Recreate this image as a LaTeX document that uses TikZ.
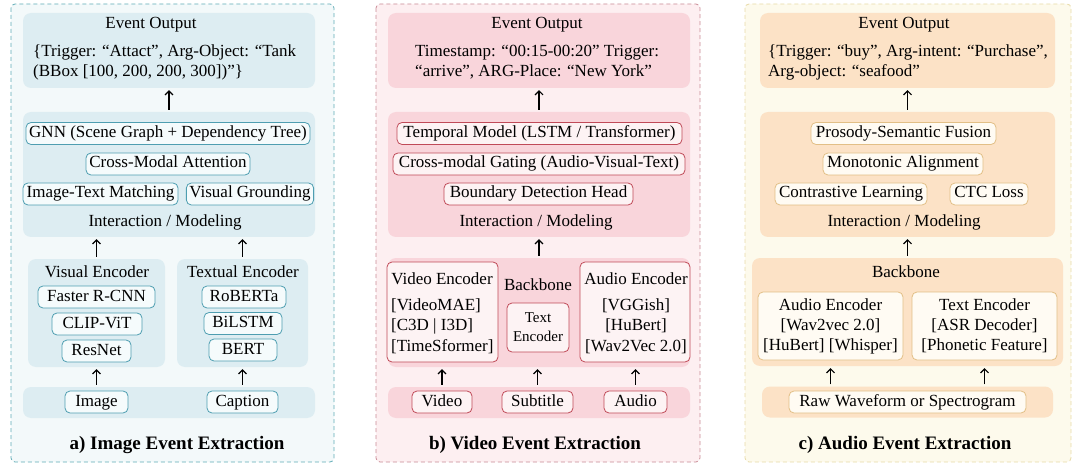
\documentclass[tikz,border=0pt]{standalone}
\usepackage{fontspec}
\setmainfont{Liberation Serif}
\usepackage{tikz}
\usetikzlibrary{arrows.meta}

\definecolor{abg}{HTML}{F3F9FA}
\definecolor{aframe}{HTML}{5EABB6}
\definecolor{abox}{HTML}{DDEDF2}
\definecolor{aedge}{HTML}{4E9EB1}
\definecolor{afill}{HTML}{F5FBFC}
\definecolor{bbg}{HTML}{FDEFF1}
\definecolor{bframe}{HTML}{C98A95}
\definecolor{bbox}{HTML}{F9D5DB}
\definecolor{bedge}{HTML}{C04A58}
\definecolor{bfill}{HTML}{FDF3F4}
\definecolor{cbg}{HTML}{FDFAEC}
\definecolor{cframe}{HTML}{E7DAA6}
\definecolor{cbox}{HTML}{FCE2C6}
\definecolor{cedge}{HTML}{E2BF86}
\definecolor{cfill}{HTML}{FFFBF3}

\tikzset{
    frame/.style={draw=#1, line width=0.8pt, dash pattern=on 4pt off 3pt, rounded corners=4pt},
    area/.style={fill=#1, rounded corners=8pt, inner sep=0pt},
    lbl/.style={inner sep=0pt, text height=12pt, text depth=4pt},
    tag/.style={draw=#1, rounded corners=5pt, line width=0.8pt, inner xsep=3pt, inner ysep=3pt, text height=12pt, text depth=4pt},
    atag/.style={tag=aedge, fill=afill},
    btag/.style={tag=bedge, fill=bfill},
    ctag/.style={tag=cedge, fill=cfill},
    encbox/.style={draw=#1, rounded corners=5pt, line width=0.8pt, inner sep=0pt},
    arr/.style={-{Straight Barb[length=4pt,width=8pt]}, line width=1.1pt, shorten <=2pt, shorten >=2pt},
    heading/.style={font=\fontsize{19}{22}\selectfont\bfseries, inner sep=0pt}
}

\begin{document}
\begin{tikzpicture}[x=1pt, y=-1pt, font=\fontsize{17}{20}\selectfont]
    \useasboundingbox (0,0) rectangle (1080,468);

    \coordinate (A1) at (11,4);
    \coordinate (A2) at (334,462);
    \coordinate (B1) at (376,4);
    \coordinate (B2) at (700,462);
    \coordinate (C1) at (745,4);
    \coordinate (C2) at (1071,462);

    \draw[frame=aframe, fill=abg] (A1) rectangle (A2);
    \draw[frame=bframe, fill=bbg] (B1) rectangle (B2);
    \draw[frame=cframe, fill=cbg] (C1) rectangle (C2);

    % a) image
    \node[area=abox, minimum width=292pt, minimum height=75pt] (aout) at (169,50.5) {};
    \node[area=abox, minimum width=292pt, minimum height=125pt] (amod) at (169,174.5) {};
    \node[area=abox, minimum width=137pt, minimum height=108pt] (avis) at (96.5,313) {};
    \node[area=abox, minimum width=131pt, minimum height=108pt] (atxt) at (242.5,313) {};
    \node[area=abox, minimum width=292pt, minimum height=31pt] (ain) at (169,402.5) {};

    \node[lbl] (aouttitle) at (151,25) {Event Output};
    \node[anchor=west, align=left, inner sep=0pt] (aevent) at (33,62) {\{Trigger: “Attact”, Arg-Object: “Tank\\(BBox [100, 200, 200, 300])”\}};

    \node[atag, minimum width=284pt] (agnn) at (168,133.5) {GNN (Scene Graph + Dependency Tree)};
    \node[atag, minimum width=164pt] (acma) at (168,164) {Cross-Modal Attention};
    \node[atag, minimum width=155pt] (aitm) at (100.5,194) {Image-Text Matching};
    \node[atag, minimum width=126pt] (avg) at (250,194) {Visual Grounding};
    \node[lbl] (amodlbl) at (165,222) {Interaction / Modeling};

    \node[lbl] (avislbl) at (97,273) {Visual Encoder};
    \node[atag, minimum width=117pt] (afrcnn) at (96.5,297) {Faster R-CNN};
    \node[atag, minimum width=90pt] (aclip) at (97,324) {CLIP-ViT};
    \node[atag, minimum width=69pt] (aresnet) at (96.5,351) {ResNet};

    \node[lbl] (atxtlbl) at (243,273) {Textual Encoder};
    \node[atag, minimum width=84pt] (aroberta) at (244,297) {RoBERTa};
    \node[atag, minimum width=78pt] (abilstm) at (243,323.5) {BiLSTM};
    \node[atag, minimum width=68pt] (abert) at (243,350) {BERT};

    \node[atag, minimum width=63pt] (aimage) at (96.5,402) {Image};
    \node[atag, minimum width=71pt] (acaption) at (242.5,402) {Caption};

    \draw[arr] (amod.north) -- (aout.south);
    \draw[arr] (avis.north) -- (avis.north |- amod.south);
    \draw[arr] (atxt.north) -- (atxt.north |- amod.south);
    \draw[arr] (ain.north -| aimage) -- (avis.south);
    \draw[arr] (ain.north -| acaption) -- (atxt.south);

    \node[heading] (atitle) at (177,445) {a) Image Event Extraction};

    % b) video
    \node[area=bbox, minimum width=302pt, minimum height=75pt] (bout) at (539,50.5) {};
    \node[area=bbox, minimum width=302pt, minimum height=125pt] (bmod) at (539,174.5) {};
    \node[area=bbox, minimum width=302pt, minimum height=109pt] (bback) at (539,312.5) {};
    \node[area=bbox, minimum width=302pt, minimum height=31pt] (bin) at (539,402.5) {};

    \node[lbl] (bouttitle) at (537,25) {Event Output};
    \node[anchor=west, align=left, inner sep=0pt] (bevent) at (415,62) {Timestamp: “00:15-00:20” Trigger:\\“arrive”, ARG-Place: “New York”};

    \node[btag, minimum width=285pt] (btemp) at (539.5,133.5) {Temporal Model (LSTM / Transformer)};
    \node[btag, minimum width=292pt] (bgate) at (539,164) {Cross-modal Gating (Audio-Visual-Text)};
    \node[btag, minimum width=189pt] (bbound) at (538.5,194) {Boundary Detection Head};
    \node[lbl] (bmodlbl) at (536,222) {Interaction / Modeling};

    \node[encbox=bedge, fill=bfill, minimum width=111pt, minimum height=100pt] (bvid) at (442.5,312) {};
    \node[lbl] (bvidlbl) at (442,280) {Video Encoder};
    \node[anchor=west, align=left, inner sep=0pt, font=\fontsize{17}{20.5}\selectfont] (bvidlist) at (391,326) {[VideoMAE]\\{}[C3D | I3D]\\{}[TimeSformer]};

    \node[lbl] (bbacklbl) at (538,286) {Backbone};
    \node[encbox=bedge, fill=bfill, minimum width=62pt, minimum height=49pt, align=center, font=\fontsize{15}{19}\selectfont] (btxt) at (538,327.5) {Text\\Encoder};

    \node[encbox=bedge, fill=bfill, minimum width=110pt, minimum height=100pt] (baud) at (635,312) {};
    \node[lbl] (baudlbl) at (636,280) {Audio Encoder};
    \node[align=center, inner sep=0pt, font=\fontsize{17}{20.5}\selectfont] (baudlist) at (636,326) {[VGGish]\\{}[HuBert]\\{}[Wav2Vec 2.0]};

    \node[btag, minimum width=60pt] (bvideo) at (442,402) {Video};
    \node[btag, minimum width=71pt] (bsub) at (537.5,402) {Subtitle};
    \node[btag, minimum width=63pt] (baudio) at (635.5,402) {Audio};

    \draw[arr] (bmod.north) -- (bout.south);
    \draw[arr] (bback.north) -- (bmod.south);
    \draw[arr] (bin.north -| bvideo) -- (bvideo |- bback.south);
    \draw[arr] (bin.north -| bsub) -- (bsub |- bback.south);
    \draw[arr] (bin.north -| baudio) -- (baudio |- bback.south);

    \node[heading] (btitle) at (535,445) {b) Video Event Extraction};

    % c) audio
    \node[area=cbox, minimum width=295pt, minimum height=75pt] (cout) at (907.5,50.5) {};
    \node[area=cbox, minimum width=295pt, minimum height=125pt] (cmod) at (907.5,174.5) {};
    \node[area=cbox, minimum width=311pt, minimum height=108pt] (cback) at (907.5,312) {};
    \node[area=cbox, minimum width=291pt, minimum height=31pt] (cin) at (907.5,402) {};

    \node[lbl] (couttitle) at (904,25) {Event Output};
    \node[anchor=west, align=left, inner sep=0pt] (cevent) at (768,62) {\{Trigger: “buy”, Arg-intent: “Purchase”,\\Arg-object: “seafood”};

    \node[ctag, minimum width=185pt] (cpros) at (903.5,133.5) {Prosody-Semantic Fusion};
    \node[ctag, minimum width=160pt] (cmono) at (903,164) {Monotonic Alignment};
    \node[ctag, minimum width=152pt] (ccon) at (851,194) {Contrastive Learning};
    \node[ctag, minimum width=78pt] (cctc) at (989,194) {CTC Loss};
    \node[lbl] (cmodlbl) at (904,222) {Interaction / Modeling};

    \node[lbl] (cbacklbl) at (906,273) {Backbone};
    \node[encbox=cedge, fill=cfill, minimum width=145pt, minimum height=68pt, align=center] (caud) at (830.5,326) {Audio Encoder\\{}[Wav2vec 2.0]\\{}[HuBert] [Whisper]};
    \node[encbox=cedge, fill=cfill, minimum width=145pt, minimum height=68pt, align=center] (ctxt) at (984.5,326) {Text Encoder\\{}[ASR Decoder]\\{}[Phonetic Feature]};

    \node[ctag, minimum width=237pt] (craw) at (907.5,402) {Raw Waveform or Spectrogram};

    \draw[arr] (cmod.north) -- (cout.south);
    \draw[arr] (cback.north) -- (cmod.south);
    \draw[arr] (cin.north -| caud) -- (caud |- cback.south);
    \draw[arr] (cin.north -| ctxt) -- (ctxt |- cback.south);

    \node[heading] (ctitle) at (905,445) {c) Audio Event Extraction};
\end{tikzpicture}
\end{document}
